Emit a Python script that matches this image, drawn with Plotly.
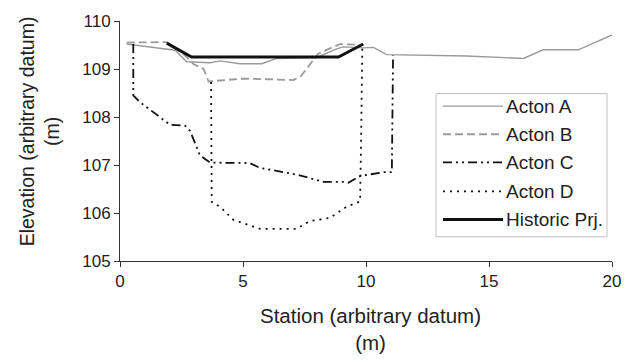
import plotly.graph_objects as go

# Data
a_x = [0.27, 2.24, 2.71, 3.66, 4.07, 4.88, 5.76, 6.37, 8.0, 8.81, 9.07, 9.9, 10.3, 10.84, 14.09, 16.4, 17.2, 18.63, 20.0]
a_y = [109.52, 109.39, 109.15, 109.13, 109.17, 109.11, 109.11, 109.22, 109.24, 109.42, 109.46, 109.44, 109.45, 109.30, 109.27, 109.22, 109.40, 109.40, 109.71]

b_x = [0.27, 1.9, 2.6, 3.0, 3.4, 3.6, 5.0, 7.05, 7.35, 8.06, 8.94, 9.85]
b_y = [109.55, 109.56, 109.3, 109.1, 109.0, 108.74, 108.80, 108.77, 108.85, 109.32, 109.52, 109.5]

c_x = [0.54, 0.54, 0.81, 2.03, 2.64, 2.85, 3.25, 3.66, 5.28, 5.69, 7.18, 8.27, 9.08, 9.28, 9.76, 10.7, 11.05, 11.1]
c_y = [109.52, 108.45, 108.31, 107.84, 107.82, 107.71, 107.2, 107.05, 107.04, 106.94, 106.80, 106.65, 106.65, 106.63, 106.77, 106.85, 106.85, 109.29]

d_x = [3.7, 3.73, 4.07, 4.6, 5.69, 7.18, 7.72, 8.54, 9.21, 9.76, 9.8, 9.85]
d_y = [108.73, 106.23, 106.13, 105.86, 105.67, 105.67, 105.83, 105.9, 106.13, 106.24, 107.5, 109.45]

h_x = [1.9, 2.91, 8.88, 9.89]
h_y = [109.54, 109.25, 109.25, 109.52]

names = ["Acton A", "Acton B", "Acton C", "Acton D", "Historic Prj."]
x_title = "Station (arbitrary datum)<br>(m)"
y_title = "Elevation (arbitrary datum)<br>(m)"

styles = [
    dict(color="#9a9a9a", width=1.4, dash="solid"),
    dict(color="#9a9a9a", width=1.8, dash="8px,4px"),
    dict(color="#111111", width=1.8, dash="9px,4px,2px,4px,2px,4px"),
    dict(color="#111111", width=1.8, dash="2px,5px"),
    dict(color="#111111", width=3, dash="solid"),
]
series = [(a_x, a_y), (b_x, b_y), (c_x, c_y), (d_x, d_y), (h_x, h_y)]

fig = go.Figure()
for (xs, ys), nm, st in zip(series, names, styles):
    fig.add_trace(go.Scatter(x=xs, y=ys, mode="lines", name=nm, line=st, showlegend=False))

FONT = "Liberation Sans, Arial, sans-serif"
L, R, T, B = 120, 26, 13, 101
W, H = 638, 362
pw, ph = W - L - R, H - T - B

def px2x(px):
    return (px - L) / pw

def py2y(py):
    return (H - B - py) / ph

# custom legend
shapes = [dict(type="rect", xref="paper", yref="paper",
               x0=px2x(436), x1=px2x(607), y0=py2y(236), y1=py2y(88),
               line=dict(color="#c0c0c0", width=1), fillcolor="white", layer="above")]
annotations = []
rows = [101, 130, 159, 189, 218]
for nm, st, py in zip(names, styles, rows):
    shapes.append(dict(type="line", xref="paper", yref="paper",
                       x0=px2x(443), x1=px2x(503), y0=py2y(py), y1=py2y(py),
                       line=st, layer="above"))
    annotations.append(dict(text=nm, xref="paper", yref="paper", x=px2x(504), y=py2y(py),
                            xanchor="left", yanchor="middle", showarrow=False,
                            font=dict(size=19, color="#222", family=FONT)))

# axis titles as annotations for exact placement
annotations.append(dict(text=x_title, xref="paper", yref="paper", x=px2x(370), y=py2y(331),
                        xanchor="center", yanchor="middle", showarrow=False, align="center",
                        font=dict(size=20.5, color="#222", family=FONT)))
annotations.append(dict(text=y_title, xref="paper", yref="paper", x=px2x(39), y=py2y(127),
                        xanchor="center", yanchor="middle", showarrow=False, align="center",
                        textangle=-90, font=dict(size=19.5, color="#222", family=FONT)))

fig.update_layout(
    width=W, height=H,
    margin=dict(l=L, r=R, t=T, b=B),
    paper_bgcolor="white", plot_bgcolor="white",
    font=dict(family=FONT, size=17, color="#222"),
    shapes=shapes, annotations=annotations,
    showlegend=False,
)
fig.update_xaxes(range=[0, 20], tickvals=[0, 5, 10, 15, 20], showgrid=False, zeroline=False,
                 showline=True, linecolor="#333", linewidth=1, ticks="outside", ticklen=5,
                 tickcolor="#333", tickfont=dict(size=17))
fig.update_yaxes(range=[105, 110], tickvals=[105, 106, 107, 108, 109, 110], showgrid=False, zeroline=False,
                 showline=True, linecolor="#333", linewidth=1, ticks="outside", ticklen=5,
                 tickcolor="#333", tickfont=dict(size=17))

fig.write_html("out.html")
